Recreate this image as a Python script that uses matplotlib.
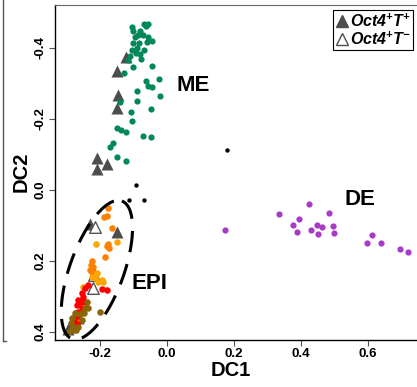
import numpy as np
import matplotlib
matplotlib.use('Agg')
import matplotlib.pyplot as plt
from matplotlib.lines import Line2D

plt.rcParams['font.family'] = ['Liberation Sans', 'DejaVu Sans']
plt.rcParams['mathtext.fontset'] = 'custom'
plt.rcParams['mathtext.rm'] = 'Liberation Sans'
plt.rcParams['mathtext.it'] = 'Liberation Sans:italic'
plt.rcParams['mathtext.bf'] = 'Liberation Sans:bold'
plt.rcParams['mathtext.bfit'] = 'Liberation Sans:italic:bold'

# mesoderm (green)
me_x = [-0.069, -0.057, -0.063, -0.104, -0.101, -0.081, -0.087, -0.072, -0.057, -0.045,
        -0.096, -0.101, -0.084, -0.060, -0.090, -0.104, -0.069, -0.093, -0.110, -0.081,
        -0.116, -0.078, -0.101, -0.045, -0.128, -0.063, -0.024, -0.057, -0.045, -0.090,
        -0.021, -0.140, -0.090, -0.048, -0.107, -0.104, -0.149, -0.137, -0.122, -0.072,
        -0.048, -0.161, -0.170, -0.149, -0.122]
me_y = [-0.468, -0.468, -0.462, -0.459, -0.448, -0.448, -0.437, -0.437, -0.431, -0.420,
        -0.431, -0.414, -0.414, -0.417, -0.400, -0.394, -0.394, -0.386, -0.377, -0.383,
        -0.366, -0.369, -0.346, -0.349, -0.330, -0.307, -0.313, -0.293, -0.290, -0.279,
        -0.265, -0.248, -0.251, -0.228, -0.220, -0.194, -0.175, -0.169, -0.163, -0.152,
        -0.149, -0.132, -0.121, -0.093, -0.082]

# definitive endoderm (purple)
de_x = [0.173, 0.334, 0.424, 0.484, 0.394, 0.376, 0.388, 0.430, 0.448, 0.463,
        0.451, 0.496, 0.499, 0.597, 0.612, 0.639, 0.696, 0.719]
de_y = [0.113, 0.068, 0.039, 0.065, 0.082, 0.099, 0.118, 0.113, 0.099, 0.104,
        0.124, 0.101, 0.121, 0.149, 0.127, 0.149, 0.166, 0.175]

# unassigned (black)
other_x = [-0.093, -0.113, -0.069, 0.179]
other_y = [-0.014, 0.028, 0.028, -0.113]

# epiblast, dark orange
epi1_x = [-0.176, -0.188, -0.179, -0.164, -0.176, -0.179, -0.173, -0.185, -0.224, -0.227,
          -0.221, -0.230, -0.224, -0.215]
epi1_y = [0.051, 0.076, 0.073, 0.107, 0.152, 0.158, 0.163, 0.189, 0.200, 0.211,
          0.217, 0.225, 0.231, 0.239]

# epiblast, light orange
epi2_x = [-0.212, -0.149, -0.209, -0.194, -0.206, -0.191, -0.224, -0.215, -0.251, -0.272]
epi2_y = [0.152, 0.146, 0.234, 0.254, 0.259, 0.259, 0.245, 0.248, 0.273, 0.369]

# epiblast, red
epi3_x = [-0.236, -0.245, -0.194, -0.179, -0.254, -0.251, -0.266, -0.257, -0.245, -0.269,
          -0.254, -0.266, -0.275, -0.278, -0.269]
epi3_y = [0.268, 0.276, 0.279, 0.282, 0.290, 0.301, 0.310, 0.315, 0.315, 0.324,
          0.332, 0.344, 0.361, 0.369, 0.377]

# epiblast, brown
epi4_x = [-0.239, -0.245, -0.251, -0.260, -0.275, -0.284, -0.287, -0.281, -0.266, -0.254,
          -0.248, -0.200, -0.236, -0.272, -0.290]
epi4_y = [0.315, 0.332, 0.344, 0.349, 0.346, 0.361, 0.375, 0.386, 0.386, 0.366,
          0.346, 0.344, 0.332, 0.394, 0.397]

# Oct4+T+ cells (filled triangles)
tri_x = [-0.122, -0.149, -0.146, -0.149, -0.209, -0.179, -0.209, -0.230, -0.149,
         -0.275, -0.284, -0.290, -0.296, -0.266]
tri_y = [-0.375, -0.335, -0.268, -0.231, -0.090, -0.073, -0.059, 0.096, 0.118,
         0.352, 0.372, 0.386, 0.392, 0.360]

# Oct4+T- cells (open triangles)
open_x = [-0.215, -0.218, -0.221]
open_y = [0.104, 0.239, 0.276]

x_ticks = [-0.2, 0.0, 0.2, 0.4, 0.6]
x_labels = ['-0.2', '0.0', '0.2', '0.4', '0.6']
y_ticks = [-0.4, -0.2, 0.0, 0.2, 0.4]
y_labels = ['-0.4', '-0.2', '0.0', '0.2', '0.4']

fig = plt.figure(figsize=(4.17, 3.87), dpi=100)
ax = fig.add_axes([55 / 417, 47 / 387, 380 / 417, 335 / 387])

# triangles under the dots
ax.scatter(tri_x, tri_y, marker='^', s=75, color='#4d4d4d', linewidths=0, zorder=2)
ax.scatter(open_x, open_y, marker='^', s=70, facecolor='white', edgecolor='#555555',
           linewidths=1.0, zorder=2)

ax.scatter(me_x, me_y, s=20, color='#00875A', linewidths=0, zorder=3)
ax.scatter(de_x, de_y, s=20, color='#A83AC8', linewidths=0, zorder=3)
ax.scatter(other_x, other_y, s=10, color='black', linewidths=0, zorder=3)
ax.scatter(epi1_x, epi1_y, s=22, color='#FF7F00', linewidths=0, zorder=3)
ax.scatter(epi2_x, epi2_y, s=22, color='#FFA500', linewidths=0, zorder=3)
ax.scatter(epi3_x, epi3_y, s=22, color='#FF0000', linewidths=0, zorder=3)
ax.scatter(epi4_x, epi4_y, s=22, color='#8B6508', linewidths=0, zorder=3)

# dashed ellipse round EPI, built from two conjugate half axes
t = np.linspace(0, 2 * np.pi, 200)
cx, cy = -0.209, 0.225
ex = cx + 0.0746 * np.cos(t) + 0.0758 * np.sin(t)
ey = cy - 0.194 * np.cos(t) + 0.026 * np.sin(t)
ax.plot(ex, ey, color='black', lw=2.2, ls=(0, (7, 4)), zorder=4)

ax.text(0.078, -0.293, 'ME', fontsize=16, fontweight='bold', ha='center', va='center')
ax.text(0.576, 0.027, 'DE', fontsize=16, fontweight='bold', ha='center', va='center')
ax.text(-0.051, 0.262, 'EPI', fontsize=16, fontweight='bold', ha='center', va='center')

ax.set_xlim(-0.334, 0.800)
ax.set_ylim(0.4225, -0.521)
ax.set_xticks(x_ticks)
ax.set_xticklabels(x_labels, fontweight='bold', fontsize=9.5)
ax.set_yticks(y_ticks)
ax.set_yticklabels(y_labels, rotation=90, va='center', fontweight='bold', fontsize=9.5)
ax.tick_params(length=4, width=0.8, color='#555555', pad=2)
ax.spines['right'].set_visible(False)
ax.spines['top'].set_color('#666666')
for side in ['left', 'bottom']:
    ax.spines[side].set_linewidth(1.0)

fig.text(231 / 417, 1 - 370 / 387, 'DC1', fontsize=14.5, fontweight='bold',
         ha='center', va='center')
fig.text(21 / 417, 1 - 172 / 387, 'DC2', fontsize=14.5, fontweight='bold',
         ha='center', va='center', rotation=90)

handles = [
    Line2D([], [], marker='^', ls='none', color='#4d4d4d', markersize=9),
    Line2D([], [], marker='^', ls='none', markerfacecolor='white',
           markeredgecolor='#4d4d4d', markersize=9),
]
labels = [r'$\mathbfit{Oct4}^{\mathbfit{+}}\mathbfit{T}^{\mathbfit{+}}$',
          r'$\mathbfit{Oct4}^{\mathbfit{+}}\mathbfit{T}^{\mathbfit{-}}$']
leg = ax.legend(handles, labels, loc='upper right', bbox_to_anchor=(413 / 417, 1 - 10 / 387),
                bbox_transform=fig.transFigure, borderaxespad=0, fancybox=False,
                fontsize=11.5, handlelength=0.8, handletextpad=0.1, borderpad=0.15,
                labelspacing=0.05, edgecolor='black', framealpha=1)
leg.get_frame().set_linewidth(0.8)

# edge of the neighbouring panel
fig.add_artist(Line2D([3 / 417, 3 / 417], [1.0, 1 - 341 / 387], transform=fig.transFigure,
                      color='#555555', lw=1))
fig.add_artist(Line2D([3 / 417, 6 / 417], [1 - 341 / 387, 1 - 341 / 387],
                      transform=fig.transFigure, color='#555555', lw=1))

fig.savefig('out.png', dpi=100)
